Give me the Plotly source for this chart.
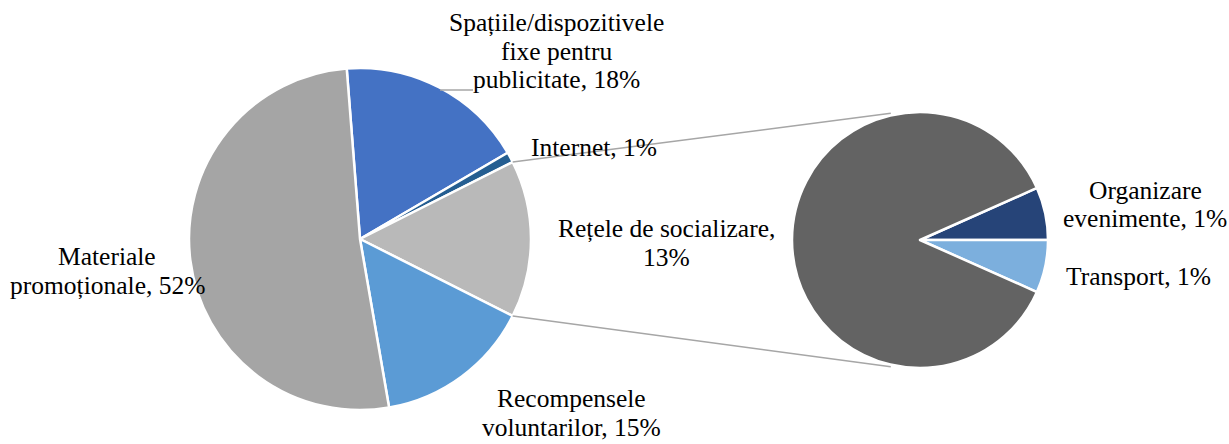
import math
import plotly.graph_objects as go

# ---- data ----
main_labels = ["Spațiile/dispozitivele fixe pentru publicitate", "Internet", "Alte",
               "Recompensele voluntarilor", "Materiale promoționale"]
main_values = [18, 1, 15, 15, 52]
main_colors = ["#4472C4", "#255E91", "#B9B9B9", "#5B9BD5", "#A5A5A5"]

sub_labels = ["Organizare evenimente", "Transport", "Rețele de socializare"]
sub_values = [1, 1, 13]
sub_colors = ["#264478", "#7CAFDD", "#636363"]

# label texts (one entry per line)
label_lines = {
    "spatiile": ["Spațiile/dispozitivele", "fixe pentru", "publicitate, 18%"],
    "internet": ["Internet, 1%"],
    "retele": ["Rețele de socializare,", "13%"],
    "materiale": ["Materiale", "promoționale, 52%"],
    "recomp": ["Recompensele", "voluntarilor, 15%"],
    "organizare": ["Organizare", "evenimente, 1%"],
    "transport": ["Transport, 1%"],
}

W, H = 1229, 444
FONT = "Liberation Serif"
FS = 25.5
LINE_H = 29

# geometry (pixels)
c1x, c1y, r1 = 360, 239, 171
c2x, c2y, r2 = 920, 240, 128

def dom(cx, cy, r):
    return dict(x=[(cx - r) / W, (cx + r) / W], y=[1 - (cy + r) / H, 1 - (cy - r) / H])

tot1 = sum(main_values)
other_idx = 2
rot1 = 90 - 360 * (sum(main_values[:other_idx]) + main_values[other_idx] / 2) / tot1
tot2 = sum(sub_values)
rot2 = 90 - 360 * sub_values[0] / tot2

fig = go.Figure()
fig.add_trace(go.Pie(
    labels=main_labels, values=main_values, sort=False, direction="clockwise",
    rotation=rot1, marker=dict(colors=main_colors, line=dict(color="white", width=2.5)),
    textinfo="none", hoverinfo="label+percent", domain=dom(c1x, c1y, r1), showlegend=False,
))
fig.add_trace(go.Pie(
    labels=sub_labels, values=sub_values, sort=False, direction="clockwise",
    rotation=rot2, marker=dict(colors=sub_colors, line=dict(color="white", width=2.5)),
    textinfo="none", hoverinfo="label+percent", domain=dom(c2x, c2y, r2), showlegend=False,
))

def pt(cx, cy, r, ang):
    a = math.radians(ang)
    return (cx + r * math.sin(a)) / W, 1 - (cy - r * math.cos(a)) / H

a_start = rot1 + 360 * sum(main_values[:other_idx]) / tot1
a_end = a_start + 360 * main_values[other_idx] / tot1
shapes = []
for a_main, a_sub in [(a_start, -13), (a_end, 193)]:
    x0, y0 = pt(c1x, c1y, r1, a_main)
    x1, y1 = pt(c2x, c2y, r2 + 2, a_sub)
    shapes.append(dict(type="line", xref="paper", yref="paper", x0=x0, y0=y0, x1=x1, y1=y1,
                       line=dict(color="#A6A6A6", width=1.5)))
# leader line for Spațiile label
shapes.append(dict(type="line", xref="paper", yref="paper", x0=440 / W, y0=1 - 90 / H,
                   x1=473 / W, y1=1 - 90 / H, line=dict(color="#A6A6A6", width=1.5)))

# label anchor positions (center x, first line center y) in pixels
label_pos = {
    "spatiile": (556, 22),
    "internet": (594, 148),
    "retele": (666, 228),
    "materiale": (107, 256),
    "recomp": (571, 398),
    "organizare": (1145, 190),
    "transport": (1138, 276),
}
annotations = []
for key, lines in label_lines.items():
    x, y = label_pos[key]
    for i, t in enumerate(lines):
        annotations.append(dict(
            x=x / W, y=1 - (y + i * LINE_H) / H, xref="paper", yref="paper",
            text=t, showarrow=False, xanchor="center", yanchor="middle",
            font=dict(family=FONT, size=FS, color="#000000"), borderpad=0,
        ))

fig.update_layout(
    width=W, height=H, margin=dict(l=0, r=0, t=0, b=0),
    paper_bgcolor="white", plot_bgcolor="white",
    shapes=shapes, annotations=annotations,
)
fig.write_html("out.html", config={"displayModeBar": False},
               post_script="document.body.style.margin='0';document.body.style.overflow='hidden';")
